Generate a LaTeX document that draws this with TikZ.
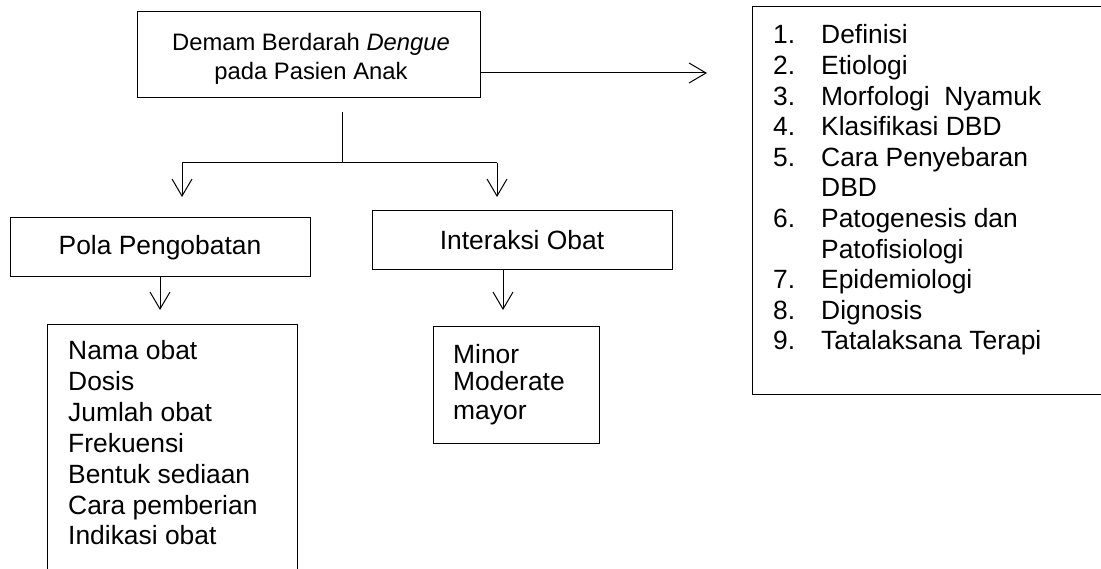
\documentclass[tikz,border=0pt]{standalone}
\usepackage{fontspec}
\setmainfont{Liberation Sans}
\usetikzlibrary{arrows.meta}
\begin{document}
\begin{tikzpicture}[x=1pt,y=-1pt,
  box/.style={draw,line width=1pt,rectangle,inner sep=0pt},
  arr/.style={line width=1pt,-{Straight Barb[length=17pt,width=20pt,line width=1pt]}},
  ln/.style={line width=1pt},
  bigfont/.style={font=\fontsize{26.4}{30.6}\selectfont},
  txt/.style={bigfont,inner sep=0pt,anchor=base west},
  toptxt/.style={font=\fontsize{23.8}{29}\selectfont,inner sep=0pt,anchor=base}]
\useasboundingbox (0,0) rectangle (1101,569);
% boxes
\node[box,minimum width=343pt,minimum height=86pt] (top) at (308.5,55) {};
\node[toptxt] (top1) at (311,51) {Demam Berdarah \textit{Dengue}};
\node[toptxt] (top2) at (311,80) {pada Pasien Anak};
\node[box,bigfont,minimum width=300pt,minimum height=59pt] (pola) at (160,247.5) {Pola Pengobatan};
\node[box,bigfont,minimum width=300pt,minimum height=59pt] (inter) at (522,240.5) {Interaksi Obat};
\node[box,minimum width=166pt,minimum height=116pt] (minor) at (516,385) {};
\node[box,minimum width=250pt,minimum height=275pt] (resep) at (172,462.5) {};
\node[box,minimum width=360pt,minimum height=388pt] (teori) at (932,201) {};
% list texts
\foreach \t [count=\i from 0] in {Nama obat,Dosis,Jumlah obat,Frekuensi,Bentuk sediaan,Cara pemberian,Indikasi obat}
  \node[txt] (r\i) at (68,360+30.8*\i) {\t};
\foreach \t [count=\i from 0] in {Minor,Moderate,mayor}
  \node[txt] (m\i) at (453,363+28*\i) {\t};
\foreach \n/\t/\k in {1./Definisi/0,2./Etiologi/1,3./Morfologi\ \ Nyamuk/2,4./Klasifikasi DBD/3,5./Cara Penyebaran/4,6./Patogenesis dan/6,7./Epidemiologi/8,8./Dignosis/9,9./Tatalaksana Terapi/10}{
  \node[txt] (n\k) at (773,44+30.6*\k) {\n};
  \node[txt] (t\k) at (821,44+30.6*\k) {\t};
}
\node[txt] (t5) at (821,44+30.6*5) {DBD};
\node[txt] (t7) at (821,44+30.6*7) {Patofisiologi};
% connectors
\coordinate (s1) at (342,112);
\coordinate (j) at (342,163);
\coordinate (jl) at (182,163);
\coordinate (jr) at (497,163);
\coordinate (tl) at (182,197);
\coordinate (tr) at (497,197);
\coordinate (rt) at (707,73);
\coordinate (pt) at (160,310);
\coordinate (it) at (503,310);
\draw[ln] (s1) -- (j);
\draw[ln] (jl) -- (jr);
\draw[arr] (jl) -- (tl);
\draw[arr] (jr) -- (tr);
\draw[arr] (rt -| top.east) -- (rt);
\draw[arr] (pola.south) -- (pt);
\draw[arr] (it |- inter.south) -- (it);
\end{tikzpicture}
\end{document}
